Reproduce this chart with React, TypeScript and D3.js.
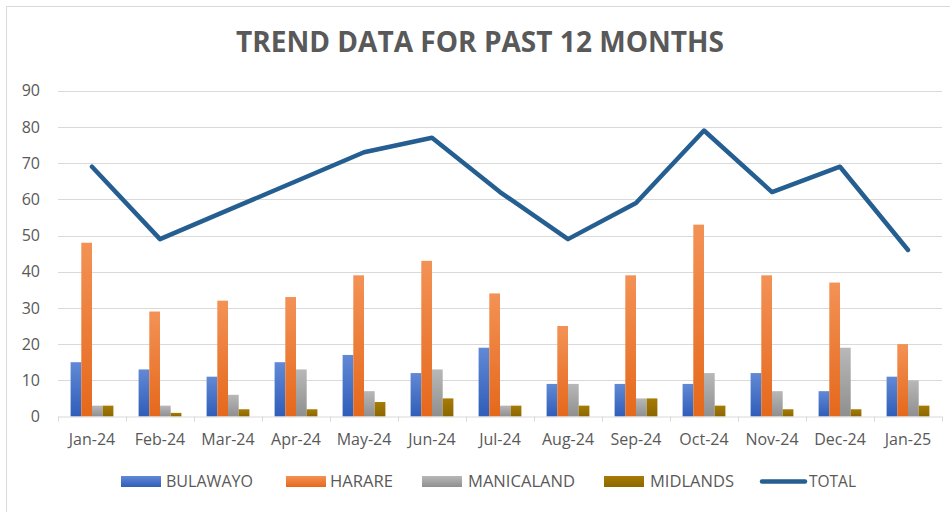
import React from "react";
import * as d3 from "d3";

const months = ["Jan-24","Feb-24","Mar-24","Apr-24","May-24","Jun-24","Jul-24","Aug-24","Sep-24","Oct-24","Nov-24","Dec-24","Jan-25"];
const seriesNames = ["BULAWAYO","HARARE","MANICALAND","MIDLANDS"];
const bulawayo = [15,13,11,15,17,12,19,9,9,9,12,7,11];
const harare = [48,29,32,33,39,43,34,25,39,53,39,37,20];
const manicaland = [3,3,6,13,7,13,3,9,5,12,7,19,10];
const midlands = [3,1,2,2,4,5,3,3,5,3,2,2,3];
const total = [69,49,57,65,73,77,62,49,59,79,62,69,46];
const yTicks = [0,10,20,30,40,50,60,70,80,90];
const title = "TREND DATA FOR PAST 12 MONTHS";

const seriesValues = [bulawayo, harare, manicaland, midlands];
const gradColors: [string,string][] = [
  ["#6189d6","#2f5db8"],
  ["#f39256","#e5681b"],
  ["#b8b8b8","#8f8f8f"],
  ["#a67c05","#8c6600"],
];
const lineColor = "#255e91";
const font = "'Open Sans', 'DejaVu Sans', sans-serif";

export default function App() {
  const W = 950, H = 512;
  const left = 58, right = 942, top = 90.7, bottom = 416.5;
  const x0 = d3.scaleBand<string>().domain(months).range([left, right]).padding(0);
  const groupW = 42.8;
  const x1 = d3.scaleBand<string>().domain(seriesNames).range([0, groupW]).padding(0);
  const y = d3.scaleLinear().domain([0, 90]).range([bottom, top]);
  const line = d3.line<number>()
    .x((_, i) => (x0(months[i]) as number) + x0.bandwidth() / 2)
    .y(d => y(d));
  const off = (x0.bandwidth() - groupW) / 2;

  const legendItems = [
    { label: "BULAWAYO", sx: 121, tx: 166, kind: 0, w: 87 },
    { label: "HARARE", sx: 286, tx: 330, kind: 1, w: 63 },
    { label: "MANICALAND", sx: 422, tx: 468, kind: 2, w: 107 },
    { label: "MIDLANDS", sx: 604, tx: 650, kind: 3, w: 84 },
    { label: "TOTAL", sx: 760, tx: 809, kind: 4, w: 47 },
  ];

  return (
    <svg width={W} height={H} style={{ position: "absolute", left: 0, top: 0, background: "#fff" }}>
      <defs>
        {gradColors.map((c, i) => (
          <linearGradient key={i} id={`g${i}`} x1="0" y1="0" x2="0" y2="1">
            <stop offset="0" stopColor={c[0]} />
            <stop offset="1" stopColor={c[1]} />
          </linearGradient>
        ))}
      </defs>
      <rect x={0} y={0} width={W} height={H} fill="#fff" />
      <path d={`M6.5,${H} V6.5 H${W}`} fill="none" stroke="#d9d9d9" />
      <text x={480} y={52} textAnchor="middle" fontFamily={font} fontWeight={700} fontSize={28}
        fill="#595959" textLength={488} lengthAdjust="spacingAndGlyphs">{title}</text>

      {yTicks.map(t => (
        <g key={t}>
          {t > 0 && <line x1={left} x2={right} y1={Math.round(y(t)) + 0.5} y2={Math.round(y(t)) + 0.5} stroke="#d9d9d9" strokeWidth={1} />}
          <text x={40} y={y(t)} dy="0.35em" textAnchor="end" fontFamily={font} fontSize={16} fill="#595959">{t}</text>
        </g>
      ))}

      {months.map((m, i) => (
        <g key={m}>
          {seriesValues.map((vals, s) => {
            const v = vals[i];
            const bx = (x0(m) as number) + off + (x1(seriesNames[s]) as number);
            return <rect key={s} x={bx} y={y(v)} width={x1.bandwidth()} height={bottom - y(v)} fill={`url(#g${s})`} />;
          })}
          <text x={(x0(m) as number) + x0.bandwidth() / 2} y={445} textAnchor="middle" fontFamily={font} fontSize={16} fill="#595959">{m}</text>
        </g>
      ))}

      <line x1={left} x2={right} y1={bottom + 0.5} y2={bottom + 0.5} stroke="#d9d9d9" />
      {[...months.map(m => x0(m) as number), right].map((xv, i) => (
        <line key={i} x1={Math.round(xv) + 0.5} x2={Math.round(xv) + 0.5} y1={bottom} y2={bottom + 5} stroke="#d9d9d9" />
      ))}

      <path d={line(total) || ""} fill="none" stroke={lineColor} strokeWidth={4.5} strokeLinejoin="round" strokeLinecap="round" />

      {legendItems.map(it => (
        <g key={it.label}>
          {it.kind < 4 ? (
            <rect x={it.sx} y={476} width={40} height={11} fill={`url(#g${it.kind})`} />
          ) : (
            <line x1={it.sx + 2} x2={it.sx + 45} y1={481.5} y2={481.5} stroke={lineColor} strokeWidth={4.5} strokeLinecap="round" />
          )}
          <text x={it.tx} y={481.5} dy="0.35em" fontFamily={font} fontSize={16} fill="#595959"
            textLength={it.w} lengthAdjust="spacingAndGlyphs">{it.label}</text>
        </g>
      ))}
    </svg>
  );
}
